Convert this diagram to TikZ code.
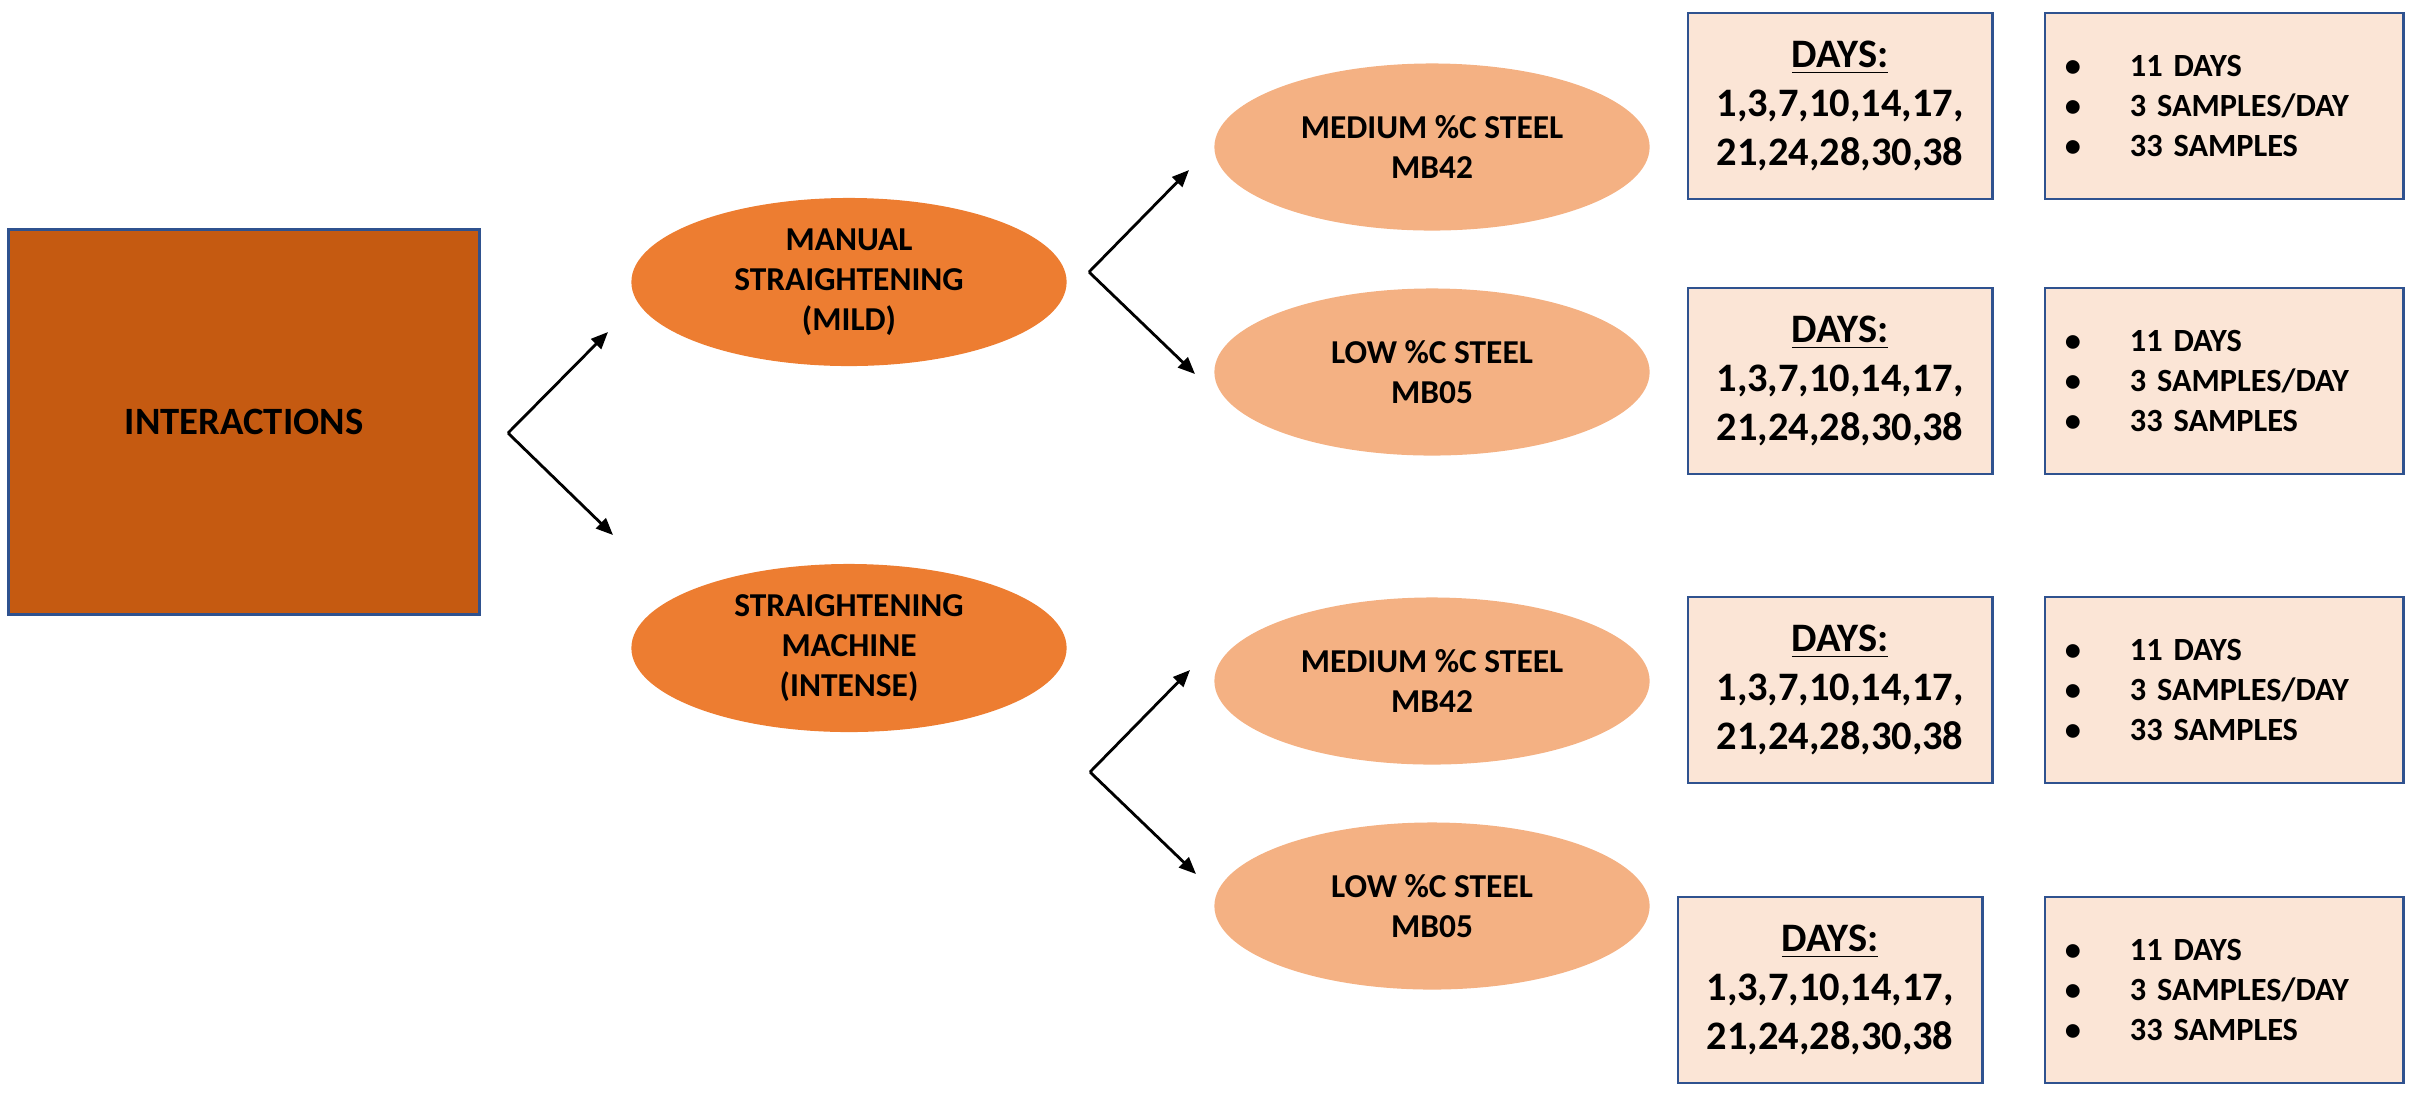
\documentclass[tikz,border=0pt]{standalone}
\usepackage{fontspec}
\setmainfont{Carlito}
\usetikzlibrary{shapes.geometric,arrows.meta,positioning}

\definecolor{rust}{HTML}{C55A11}
\definecolor{orangemid}{HTML}{ED7D31}
\definecolor{orangelight}{HTML}{F4B183}
\definecolor{peach}{HTML}{FBE5D6}
\definecolor{navy}{HTML}{2F528F}

\tikzstyle{root} = [rectangle, draw=navy, line width=0.8pt, fill=rust, minimum width=4.71cm, minimum height=3.85cm, font=\bfseries\fontsize{11}{13}\selectfont]
\tikzstyle{method} = [ellipse, fill=orangemid, minimum width=4.35cm, minimum height=1.68cm, inner sep=0pt, align=center, font=\bfseries\fontsize{9.5}{11.3}\selectfont]
\tikzstyle{steel} = [ellipse, fill=orangelight, minimum width=4.35cm, minimum height=1.67cm, inner sep=0pt, align=center, font=\bfseries\fontsize{9.5}{11.5}\selectfont]
\tikzstyle{days} = [rectangle, draw=navy, line width=0.8pt, fill=peach, minimum width=3.04cm, minimum height=1.86cm, align=center, font=\bfseries\fontsize{11.5}{14}\selectfont]
\tikzstyle{info} = [rectangle, draw=navy, line width=0.8pt, fill=peach, minimum width=3.58cm, minimum height=1.86cm, text width=3.18cm, inner xsep=0.2cm, align=left, font=\bfseries\fontsize{9.2}{11.3}\selectfont]
\tikzstyle{link} = [-{Triangle[length=0.17cm,width=0.14cm]}, line width=0.8pt]

\newcommand{\daylist}{\underline{DAYS:}\\ 1,3,7,10,14,17,\\ 21,24,28,30,38}
\newcommand{\samplelist}{\makebox[0.65cm][l]{•}11 DAYS\\ \makebox[0.65cm][l]{•}3 SAMPLES/DAY\\ \makebox[0.65cm][l]{•}33 SAMPLES}

\begin{document}
\begin{tikzpicture}[x=0.01cm, y=-0.01cm]
\useasboundingbox (0,0) rectangle (2428,1108);
%wortel
\node[root] (inter) at (244,422) {INTERACTIONS};
%begin level1
\node[method] (manual) at (849,282) {MANUAL\\ STRAIGHTENING\\ (MILD)};
\node[method] (machine) at (849,648) {STRAIGHTENING\\ MACHINE\\ (INTENSE)};
%end level1
%begin level2-manual
\node[steel] (manmed) at (1432,147) {MEDIUM \%C STEEL\\ MB42};
\node[steel] (manlow) at (1432,372) {LOW \%C STEEL\\ MB05};
%end level2-manual
%begin level2-machine
\node[steel] (macmed) at (1432,681) {MEDIUM \%C STEEL\\ MB42};
\node[steel] (maclow) at (1432,906) {LOW \%C STEEL\\ MB05};
%end level2-machine
%begin days
\node[days] (days1) at (1840,106) {\daylist};
\node[days] (days2) at (1840,381) {\daylist};
\node[days] (days3) at (1840,690) {\daylist};
\node[days] (days4) at (1830,990) {\daylist};
%end days
%begin samples
\node[info] (info1) at (2224,106) {\samplelist};
\node[info] (info2) at (2224,381) {\samplelist};
\node[info] (info3) at (2224,690) {\samplelist};
\node[info] (info4) at (2224,990) {\samplelist};
%end samples
%begin arrows
\coordinate (fork0) at (508,433);
\coordinate (tip0a) at (608,332);
\coordinate (tip0b) at (613,535);
\coordinate (fork1) at (1089,272);
\coordinate (tip1a) at (1189,170);
\coordinate (tip1b) at (1195,374);
\coordinate (fork2) at (1090,772);
\coordinate (tip2a) at (1190,670);
\coordinate (tip2b) at (1196,874);
\draw[link] (fork0) -- (tip0a);
\draw[link] (fork0) -- (tip0b);
\draw[link] (fork1) -- (tip1a);
\draw[link] (fork1) -- (tip1b);
\draw[link] (fork2) -- (tip2a);
\draw[link] (fork2) -- (tip2b);
%end arrows
\end{tikzpicture}
\end{document}
